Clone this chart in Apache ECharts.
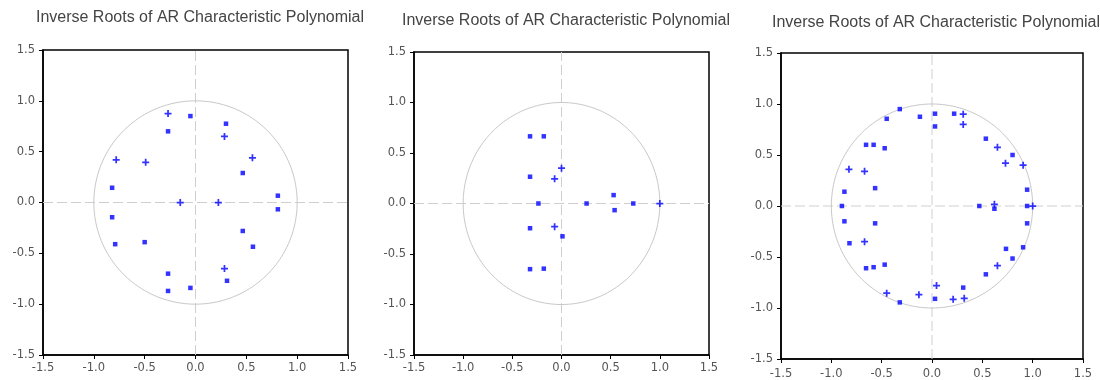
<!DOCTYPE html>
<html>
<head>
<meta charset="utf-8">
<script src="https://cdn.jsdelivr.net/npm/echarts@6/dist/echarts.min.js"></script>
<style>
  html, body { margin: 0; padding: 0; background: #fff; }
  #chart { width: 1100px; height: 380px; }
</style>
</head>
<body>
<div id="chart"></div>
<script>
// Panel titles
const titles = [
  'Inverse Roots of AR Characteristic Polynomial',
  'Inverse Roots of AR Characteristic Polynomial',
  'Inverse Roots of AR Characteristic Polynomial'
];

// Axis range and tick step shared by all panels
const axisMin = -1.5;
const axisMax = 1.5;
const axisStep = 0.5;

// Inverse roots, [real, imaginary] — model 1
const roots1Dots = [
  [-0.05, 0.85], [0.30, 0.775], [-0.27, 0.70], [0.465, 0.29], [-0.82, 0.145],
  [0.81, 0.067], [0.81, -0.067], [-0.82, -0.145], [0.465, -0.28], [-0.79, -0.41],
  [-0.50, -0.39], [0.565, -0.435], [-0.27, -0.70], [0.31, -0.77], [-0.27, -0.87],
  [-0.05, -0.84]
];
const roots1Cross = [
  [-0.27, 0.875], [0.285, 0.65], [-0.78, 0.42], [-0.49, 0.395], [0.56, 0.44],
  [-0.15, 0], [0.225, 0], [0.285, -0.65]
];

// Inverse roots — model 2
const roots2Dots = [
  [-0.32, 0.665], [-0.18, 0.665], [-0.32, 0.265], [-0.235, 0.0], [0.255, 0],
  [0.53, 0.083], [0.54, -0.066], [0.73, 0], [-0.32, -0.245], [0.01, -0.325],
  [-0.32, -0.65], [-0.18, -0.645]
];
const roots2Cross = [
  [0.0, 0.35], [-0.07, 0.245], [-0.07, -0.23], [1.0, 0]
];

// Inverse roots — model 3
const roots3Dots = [
  [-0.32, 0.95], [-0.45, 0.855], [-0.12, 0.875], [0.03, 0.905], [0.03, 0.78],
  [0.22, 0.905], [0.535, 0.66], [0.80, 0.50], [-0.655, 0.60], [-0.58, 0.60],
  [-0.47, 0.566], [-0.565, 0.175], [-0.87, 0.14], [0.945, 0.16], [-0.895, 0],
  [0.47, 0], [0.62, -0.027], [0.945, 0], [-0.87, -0.15], [-0.565, -0.17],
  [0.945, -0.17], [-0.82, -0.365], [0.735, -0.42], [0.905, -0.405], [0.80, -0.515],
  [-0.655, -0.61], [-0.58, -0.60], [-0.47, -0.575], [0.535, -0.67], [0.31, -0.80],
  [0.03, -0.91], [-0.32, -0.945]
];
const roots3Cross = [
  [0.31, 0.90], [0.31, 0.80], [0.65, 0.575], [0.73, 0.42], [0.905, 0.40],
  [-0.825, 0.36], [-0.67, 0.34], [0.62, 0.017], [1.0, 0], [-0.67, -0.35],
  [0.65, -0.585], [0.045, -0.78], [-0.45, -0.855], [-0.13, -0.87], [0.21, -0.915],
  [0.32, -0.905]
];

const panels = [
  { dots: roots1Dots, cross: roots1Cross },
  { dots: roots2Dots, cross: roots2Cross },
  { dots: roots3Dots, cross: roots3Cross }
];

// Plot boxes and title anchors, in pixels
const layout = [
  { grid: { left: 43,  top: 50, width: 305, height: 305 }, titleX: 195, titleY: 5, labelMargin: 7 },
  { grid: { left: 414, top: 52, width: 295, height: 303 }, titleX: 561, titleY: 8, labelMargin: 7 },
  { grid: { left: 781, top: 53, width: 302, height: 307 }, titleX: 931, titleY: 10, labelMargin: 9 }
];

// Unit circle outline, sampled finely enough to look smooth
const unitCircle = [];
for (let i = 0; i <= 360; i += 2) {
  const a = i * Math.PI / 180;
  unitCircle.push([Math.cos(a), Math.sin(a)]);
}

// Zero reference lines spanning the axis range
const zeroVertical = [[0, axisMin], [0, axisMax]];
const zeroHorizontal = [[axisMin, 0], [axisMax, 0]];

const plusPath = 'path://M3,0H5V3H8V5H5V8H3V5H0V3H3Z';
const rootColor = '#0000ff';
const tickFont = '"DejaVu Sans", "Liberation Sans", Arial, sans-serif';
const titleFont = '"Liberation Sans", Arial, sans-serif';

const labelFmt = v => v.toFixed(1);

function axis(type, i) {
  return {
    type: 'value',
    gridIndex: i,
    min: axisMin,
    max: axisMax,
    interval: axisStep,
    axisLine: { show: true, onZero: false, lineStyle: { color: '#000', width: 1.5 } },
    axisTick: { show: true, inside: false, length: 4, lineStyle: { color: '#000' } },
    axisLabel: {
      formatter: labelFmt,
      color: '#555',
      fontSize: 11.5,
      fontFamily: tickFont,
      margin: type === 'x' ? layout[i].labelMargin : 8,
      padding: type === 'x' ? 0 : [0, 0, 6, 0]
    },
    splitLine: { show: false }
  };
}

const option = {
  animation: false,
  backgroundColor: '#fff',
  title: titles.map((t, i) => ({
    text: t,
    left: layout[i].titleX,
    top: layout[i].titleY,
    textAlign: 'center',
    textStyle: { fontSize: 16, fontWeight: 'normal', color: '#444', fontFamily: titleFont }
  })),
  grid: layout.map(l => Object.assign({
    show: true, borderColor: '#000', borderWidth: 1.5, backgroundColor: '#fff'
  }, l.grid)),
  xAxis: panels.map((p, i) => axis('x', i)),
  yAxis: panels.map((p, i) => axis('y', i)),
  series: []
};

const dashed = { color: '#cfcfcf', type: [10, 4], width: 1 };

panels.forEach((p, i) => {
  [zeroVertical, zeroHorizontal].forEach(seg => {
    option.series.push({
      type: 'line',
      xAxisIndex: i, yAxisIndex: i,
      data: seg,
      showSymbol: false,
      silent: true,
      lineStyle: dashed,
      z: 1
    });
  });
  option.series.push({
    type: 'line',
    xAxisIndex: i, yAxisIndex: i,
    data: unitCircle,
    showSymbol: false,
    silent: true,
    lineStyle: { color: '#c8c8c8', width: 1 },
    z: 1
  });
  option.series.push({
    type: 'scatter',
    xAxisIndex: i, yAxisIndex: i,
    data: p.dots,
    symbol: 'rect',
    symbolSize: 4.5,
    itemStyle: { color: rootColor },
    z: 3
  });
  option.series.push({
    type: 'scatter',
    xAxisIndex: i, yAxisIndex: i,
    data: p.cross,
    symbol: plusPath,
    symbolSize: 7,
    itemStyle: { color: rootColor },
    z: 3
  });
});

const chart = echarts.init(document.getElementById('chart'), null, { renderer: 'canvas' });
chart.setOption(option);
</script>
</body>
</html>
